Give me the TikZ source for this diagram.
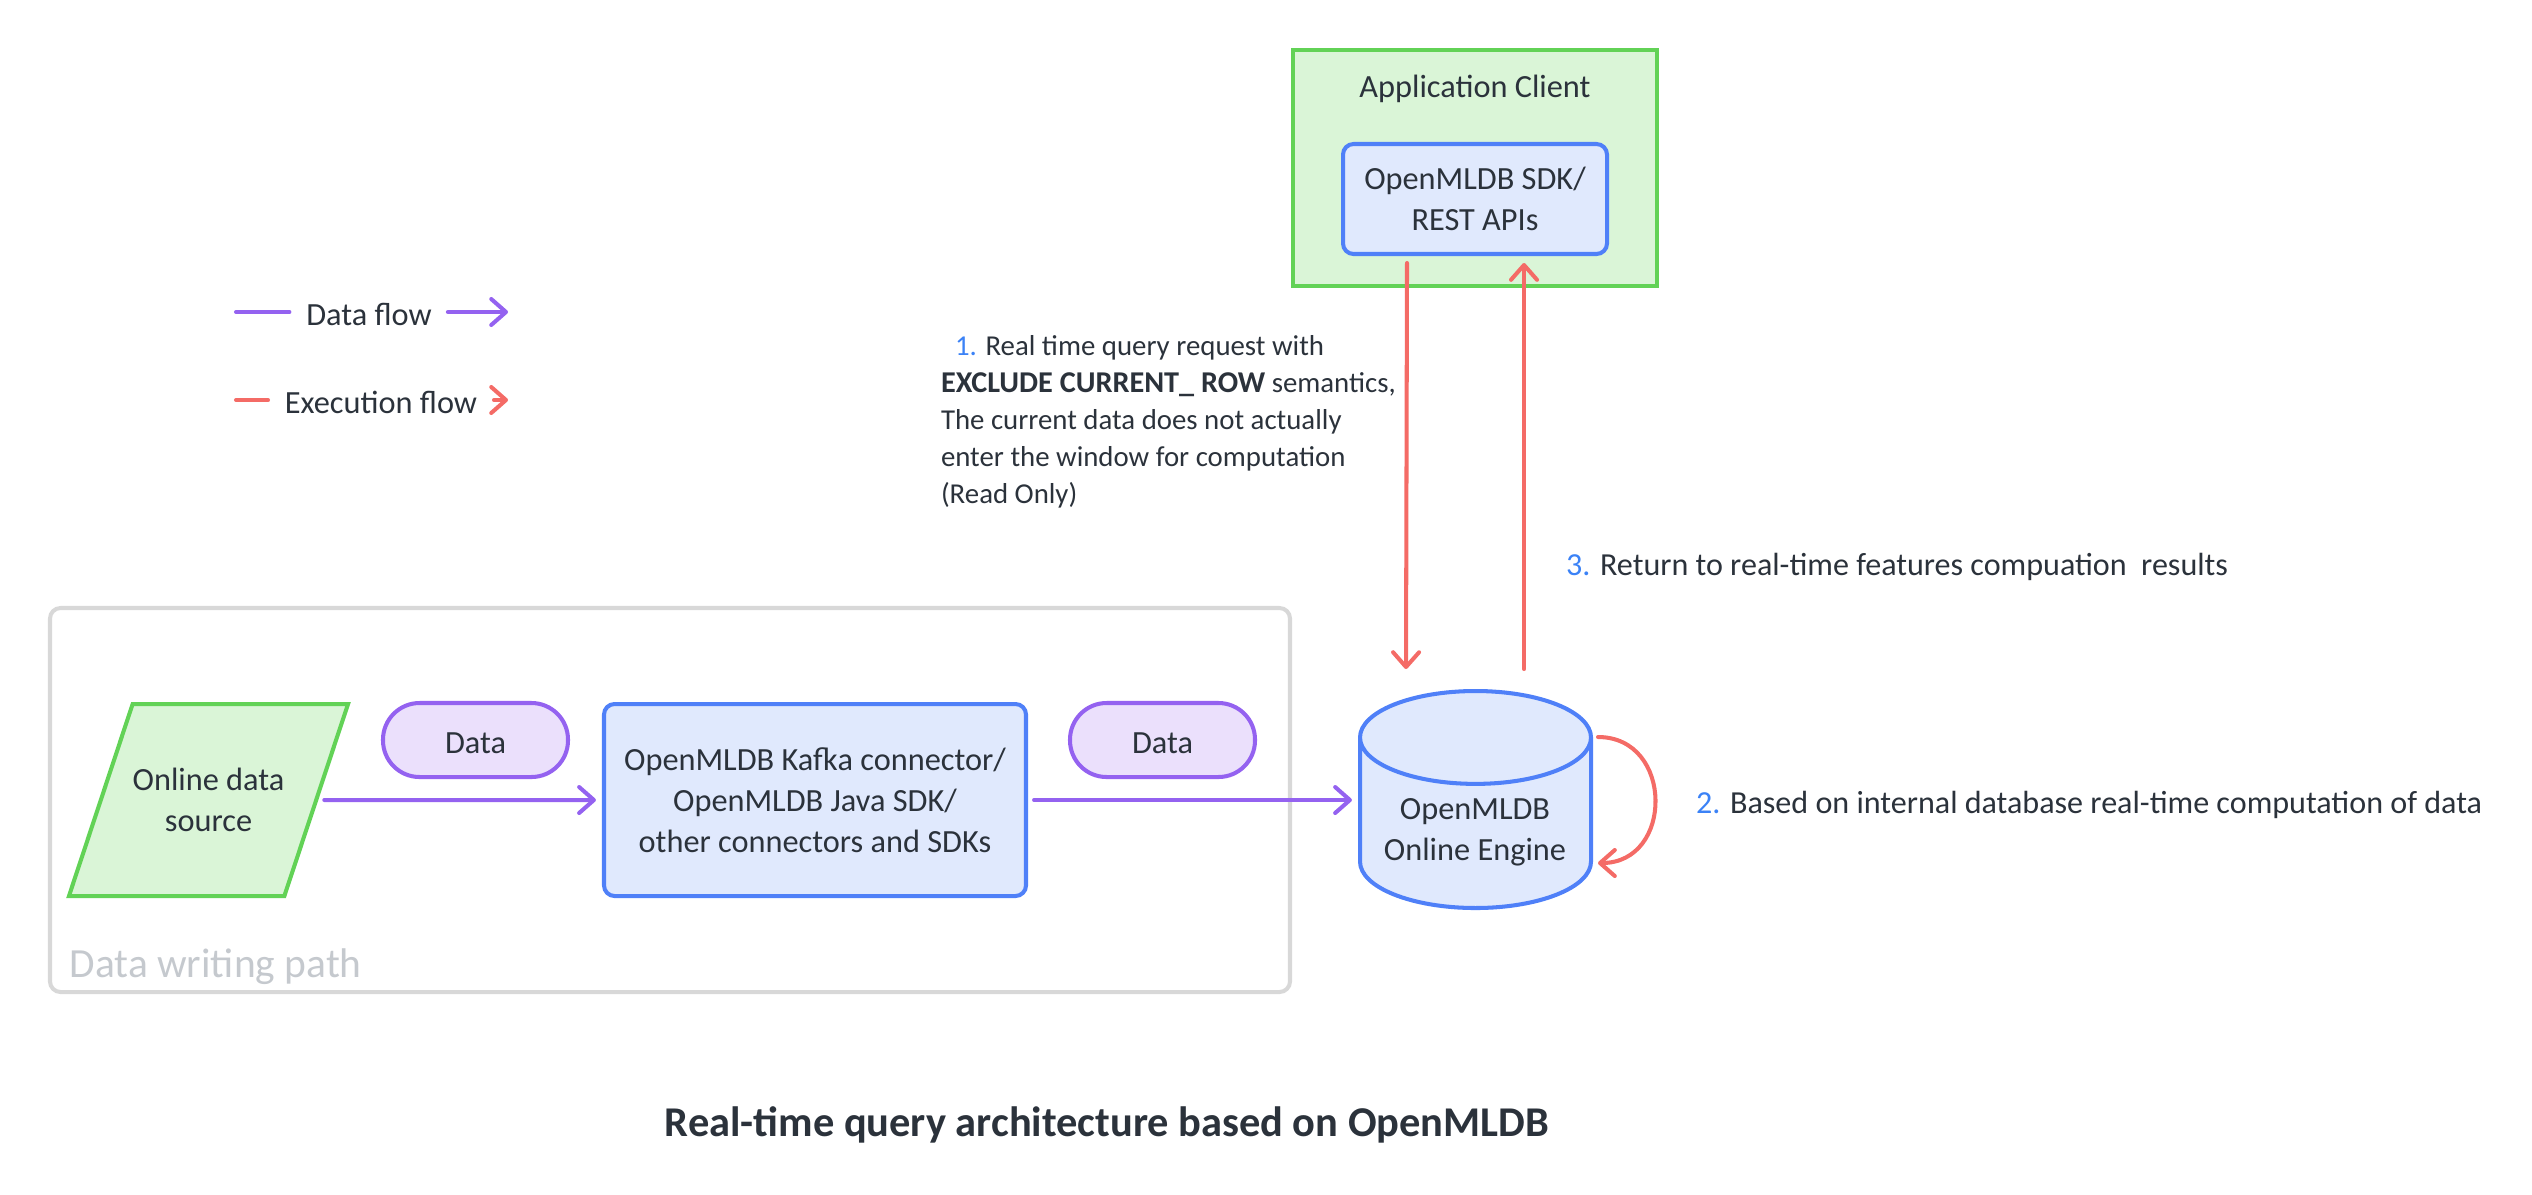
\documentclass[tikz,border=0pt]{standalone}
\usepackage{fontspec}
\setmainfont{Carlito}
\usetikzlibrary{arrows.meta,shapes.geometric}
\definecolor{inkdark}{HTML}{2B323B}
\definecolor{greenline}{HTML}{62D256}
\definecolor{greenfill}{HTML}{DAF5D7}
\definecolor{blueline}{HTML}{4F80F8}
\definecolor{bluefill}{HTML}{E0E9FD}
\definecolor{purpleline}{HTML}{9462F0}
\definecolor{purplefill}{HTML}{EBE0FC}
\definecolor{redline}{HTML}{F46B66}
\definecolor{numblue}{HTML}{3B82F6}
\definecolor{pathgrey}{HTML}{C5C9CE}
\definecolor{frameline}{HTML}{D8D8D8}
\newcommand{\numtag}[1]{\textcolor{numblue}{#1}}
\tikzset{
	basetext/.style={text=inkdark,font=\fontsize{9.2pt}{11.66pt}\selectfont,align=center,inner sep=0pt,outer sep=0pt},
	sidetext/.style={text=inkdark,font=\fontsize{8.2pt}{10.5pt}\selectfont,align=left,inner sep=0pt,outer sep=0pt,anchor=west},
	bluebox/.style={basetext,draw=blueline,fill=bluefill,line width=1.15pt,rounded corners=3pt},
	greenbox/.style={basetext,draw=greenline,fill=greenfill,line width=1.15pt},
	datapill/.style={basetext,draw=purpleline,fill=purplefill,line width=1.15pt,rounded corners=10.4pt,minimum width=1.85cm,minimum height=.74cm,text height=.27cm,text depth=0pt},
	dataflow/.style={draw=purpleline,line width=1.15pt,line cap=round,shorten <=2.3pt,shorten >=2.3pt},
	execflow/.style={draw=redline,line width=1.15pt,line cap=round},
	>={Straight Barb[length=4.2pt,width=7.4pt,line width=1.15pt,round]}
}
\begin{document}
\begin{tikzpicture}
		\useasboundingbox (0,0) rectangle (25.32,-11.94);
		\node[draw=frameline,line width=1.15pt,rounded corners=3pt,minimum width=12.4cm,minimum height=3.84cm,outer sep=0pt] (writepath) at (6.70,-8.00) {};
		\node[anchor=west,text=pathgrey,font=\fontsize{11.8pt}{13pt}\selectfont,inner sep=0pt] (writepathlabel) at (.69,-9.67) {Data writing path};
		\node[greenbox,minimum width=3.64cm,minimum height=2.36cm] (client) at (14.75,-1.68) {};
		\node[basetext] (clientlabel) at (14.75,-.885) {Application Client};
		\node[bluebox,minimum width=2.64cm,minimum height=1.10cm] (sdk) at (14.75,-1.99) {OpenMLDB SDK/\\REST APIs};
		\node[greenbox,trapezium,trapezium left angle=45,trapezium right angle=135,trapezium stretches=true,minimum width=2.75cm,minimum height=1.92cm] (source) at (2.085,-8.00) {Online data\\source};
		\node[datapill] (dataone) at (4.755,-7.40) {Data};
		\node[bluebox,minimum width=4.22cm,minimum height=1.92cm] (connector) at (8.15,-8.00) {OpenMLDB Kafka connector/\\OpenMLDB Java SDK/\\other connectors and SDKs};
		\node[datapill] (datatwo) at (11.625,-7.40) {Data};
		\node[bluebox,rounded corners=0pt,cylinder,shape border rotate=90,aspect=.51,minimum width=2.31cm,minimum height=2.17cm,anchor=shape center] (engine) at (14.755,-7.995) {\phantom{OpenMLDB}\\\phantom{Online Engine}};
		\node[basetext] (enginelabel) at (14.75,-8.32) {OpenMLDB\\Online Engine};
		\draw[dataflow,->] (source.east) -- (connector.west);
		\draw[dataflow,->] (connector.east) -- (connector.east -| engine.west);
		\coordinate (reqstart) at ([xshift=-.68cm,yshift=-.09cm]sdk.south);
		\coordinate (reqend) at (14.06,-6.69);
		\coordinate (retstart) at (15.24,-6.69);
		\coordinate (retend) at ([xshift=.49cm,yshift=-.09cm]sdk.south);
		\draw[execflow,->] (reqstart) -- (reqend);
		\draw[execflow,->] (retstart) -- (retend);
		\coordinate (loopstart) at (15.98,-7.37);
		\coordinate (loopend) at (15.98,-8.63);
		\draw[execflow,->] (loopstart) to[out=0,in=0,distance=.76cm] (loopend);
		\node[basetext] (dataflowlabel) at (3.69,-3.14) {Data flow};
		\coordinate (dataflowleft) at (2.36,-3.12);
		\coordinate (dataflowright) at (5.08,-3.12);
		\draw[draw=purpleline,line width=1.15pt,line cap=round,shorten >=4.8pt] (dataflowleft) -- (dataflowleft -| dataflowlabel.west);
		\draw[draw=purpleline,line width=1.15pt,line cap=round,shorten <=4.6pt,->] (dataflowright -| dataflowlabel.east) -- (dataflowright);
		\node[basetext] (execflowlabel) at (3.81,-4.02) {Execution flow};
		\coordinate (execflowleft) at (2.36,-4.00);
		\coordinate (execflowright) at (5.08,-4.00);
		\draw[execflow,shorten >=4.8pt] (execflowleft) -- (execflowleft -| execflowlabel.west);
		\draw[execflow,shorten <=4.8pt,->] (execflowright -| execflowlabel.east) -- (execflowright);
		\node[sidetext] (requestlabel) at (9.41,-4.22) {\hspace{.14cm}\numtag{1.} Real time query request with\\{\bfseries\fontsize{8.6pt}{10.5pt}\selectfont EXCLUDE CURRENT\_ ROW} semantics,\\The current data does not actually\\enter the window for computation\\(Read Only)};
		\node[sidetext,font=\fontsize{9.13pt}{11pt}\selectfont] (returnlabel) at (15.66,-5.67) {\numtag{3.} Return to real-time features compuation\ \ results};
		\node[sidetext,font=\fontsize{9.13pt}{11pt}\selectfont] (computelabel) at (16.96,-8.05) {\numtag{2.} Based on internal database real-time computation of data};
		\node[text=inkdark,font=\bfseries\fontsize{12.07pt}{14pt}\selectfont,inner sep=0pt] (title) at (11.07,-11.25) {Real-time query architecture based on OpenMLDB};
	\end{tikzpicture}
\end{document}
